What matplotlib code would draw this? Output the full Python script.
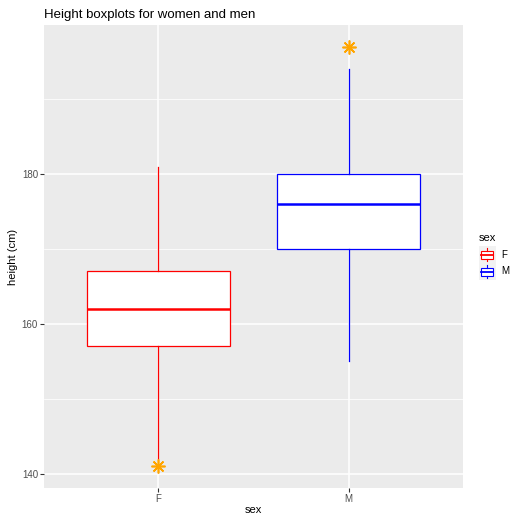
import matplotlib
matplotlib.use("Agg")
import matplotlib.pyplot as plt
from matplotlib.patches import Rectangle
from matplotlib.lines import Line2D

plt.rcParams['font.family'] = ['Liberation Sans', 'DejaVu Sans']

# box stats
groups = ['F', 'M']
colors = ['red', 'blue']
whislo = [142, 155]
q1 = [157, 170]
med = [162, 176]
q3 = [167, 180]
whishi = [181, 194]
fliers = [[141], [197]]

fig = plt.figure(figsize=(5.12, 5.14), dpi=100)
W, H = 512, 514
ax = fig.add_axes([44 / W, 1 - 488 / H, (463 - 44) / W, (488 - 25) / H])
ax.set_facecolor('#EBEBEB')

for i, g in enumerate(groups):
    st = [dict(whislo=whislo[i], q1=q1[i], med=med[i], q3=q3[i],
               whishi=whishi[i], fliers=[], label=g)]
    ax.bxp(st, positions=[i + 1], widths=0.75, showcaps=False,
           patch_artist=True,
           boxprops=dict(facecolor='white', edgecolor=colors[i], linewidth=0.9),
           whiskerprops=dict(color=colors[i], linewidth=0.9),
           medianprops=dict(color=colors[i], linewidth=1.8),
           zorder=3)
    ax.plot([i + 1] * len(fliers[i]), fliers[i], marker=(8, 2, 0), color='orange',
            markersize=10, markeredgewidth=1.2, linestyle='none', zorder=4)

ax.set_xlim(0.4, 2.6)
ax.set_ylim(138.13, 199.87)
ax.set_xticks([1, 2])
ax.set_xticklabels(groups)
ax.set_yticks([140, 160, 180])
ax.set_yticks([150, 170, 190], minor=True)
ax.grid(True, which='major', color='white', linewidth=1.1, zorder=0)
ax.grid(True, which='minor', axis='y', color='white', linewidth=0.55, zorder=0)
ax.set_axisbelow(True)
ax.tick_params(which='major', length=2.8, width=0.8, color='#333333',
               labelcolor='#4D4D4D', labelsize=7, pad=1.5)
ax.tick_params(which='minor', length=0)
for s in ax.spines.values():
    s.set_visible(False)

ax.set_xlabel('sex', fontsize=8, labelpad=1)
ax.set_ylabel('height (cm)', fontsize=8, labelpad=3)
ax.set_title('Height boxplots for women and men', fontsize=9.5, loc='left', pad=5)


# legend drawn by hand, in pixel units of the figure
def fx(px):
    return px / W


def fy(py):
    return 1 - py / H


fig.text(fx(479), fy(238), 'sex', fontsize=8, ha='left', va='center')
key = 17
for i, (g, c) in enumerate(zip(groups, colors)):
    top = 246 + i * key
    cx = 487
    fig.add_artist(Rectangle((fx(478.5), fy(top + key)), key / W, key / H,
                             facecolor='#F2F2F2', edgecolor='none'))
    fig.add_artist(Rectangle((fx(481), fy(top + 12.5)), 12 / W, 8 / H,
                             facecolor='white', edgecolor=c, linewidth=0.8))
    fig.add_artist(Line2D([fx(481), fx(493)], [fy(top + 8.5)] * 2, color=c, linewidth=1.3))
    fig.add_artist(Line2D([fx(cx)] * 2, [fy(top + 2), fy(top + 4.5)], color=c, linewidth=0.8))
    fig.add_artist(Line2D([fx(cx)] * 2, [fy(top + 12.5), fy(top + 15)], color=c, linewidth=0.8))
    fig.text(fx(501), fy(top + key / 2), g, fontsize=7, ha='left', va='center')

fig.savefig('out.png', dpi=100)
